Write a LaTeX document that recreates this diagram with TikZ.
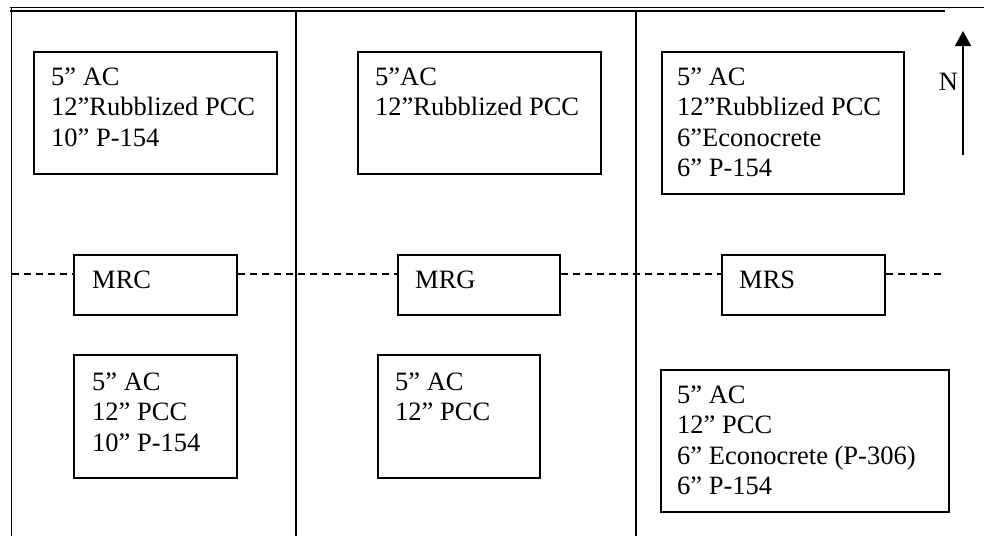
\documentclass[tikz,border=0pt]{standalone}
\usepackage{fontspec}
\setmainfont{Liberation Serif}
\usetikzlibrary{arrows.meta}
\begin{document}
\begin{tikzpicture}[x=1pt,y=-1pt,
  box/.style={draw, line width=1.8pt, inner sep=0pt, anchor=north west},
  txt/.style={anchor=base west, inner sep=0pt, align=left, font=\fontsize{26.5}{30.5}\selectfont},
  rule/.style={line width=1.8pt},
  dashline/.style={line width=1.4pt, dash pattern=on 7pt off 5pt}]
\useasboundingbox (0,0) rectangle (984,536);
% frame lines
\coordinate (tA) at (10,7.5);
\coordinate (tB) at (984,7.5);
\coordinate (uA) at (10,11);
\coordinate (uB) at (945,11);
\draw[rule] (tA) -- (tB);
\draw[rule] (uA) -- (uB);
\coordinate (v0t) at (11.5,7.5);
\coordinate (v0b) at (11.5,536);
\coordinate (v1t) at (296,11);
\coordinate (v1b) at (296,536);
\coordinate (v2t) at (636,11);
\coordinate (v2b) at (636,536);
\draw[rule] (v0t) -- (v0b);
\draw[rule] (v1t) -- (v1b);
\draw[rule] (v2t) -- (v2b);
% top boxes (text nodes anchored at baseline of their last line)
\node[box, minimum width=243pt, minimum height=122pt] (tl) at (33,51) {};
\node[txt] (tltx) at (51,146) {5” AC\\12”Rubblized PCC\\10” P-154};
\node[box, minimum width=243pt, minimum height=122pt] (tm) at (357,51) {};
\node[txt] (tmtx) at (375,115.5) {5”AC\\12”Rubblized PCC};
\node[box, minimum width=242pt, minimum height=142pt] (tr) at (661,51) {};
\node[txt] (trtx) at (677,176.5) {5” AC\\12”Rubblized PCC\\6”Econocrete\\6” P-154};
% middle boxes
\node[box, minimum width=163pt, minimum height=60pt] (mrc) at (73,254) {};
\node[txt] (mrctx) at (92,288) {MRC};
\node[box, minimum width=162pt, minimum height=60pt] (mrg) at (397,254) {};
\node[txt] (mrgtx) at (415,288) {MRG};
\node[box, minimum width=163pt, minimum height=60pt] (mrs) at (721,254) {};
\node[txt] (mrstx) at (739,288) {MRS};
\coordinate (dL) at (11.5,274);
\coordinate (dR) at (943,274);
\draw[dashline] (dL) -- (dL -| mrc.west);
\draw[dashline] (dL -| mrc.east) -- (dL -| mrg.west);
\draw[dashline] (dL -| mrg.east) -- (dL -| mrs.west);
\draw[dashline] (dL -| mrs.east) -- (dR);
% bottom boxes
\node[box, minimum width=163pt, minimum height=123pt] (bl) at (73,354) {};
\node[txt] (bltx) at (92,451) {5” AC\\12” PCC\\10” P-154};
\node[box, minimum width=162pt, minimum height=123pt] (bm) at (377,354) {};
\node[txt] (bmtx) at (395,420.5) {5” AC\\12” PCC};
\node[box, minimum width=288pt, minimum height=142pt] (br) at (660,369) {};
\node[txt] (brtx) at (677,494.5) {5” AC\\12” PCC\\6” Econocrete (P-306)\\6” P-154};
% north arrow
\coordinate (nS) at (963,155);
\coordinate (nE) at (963,31);
\draw[line width=1.6pt, -{Triangle[width=16pt,length=15pt]}] (nS) -- (nE);
\node[txt, anchor=base] (ntx) at (948.5,90) {N};
\end{tikzpicture}
\end{document}
